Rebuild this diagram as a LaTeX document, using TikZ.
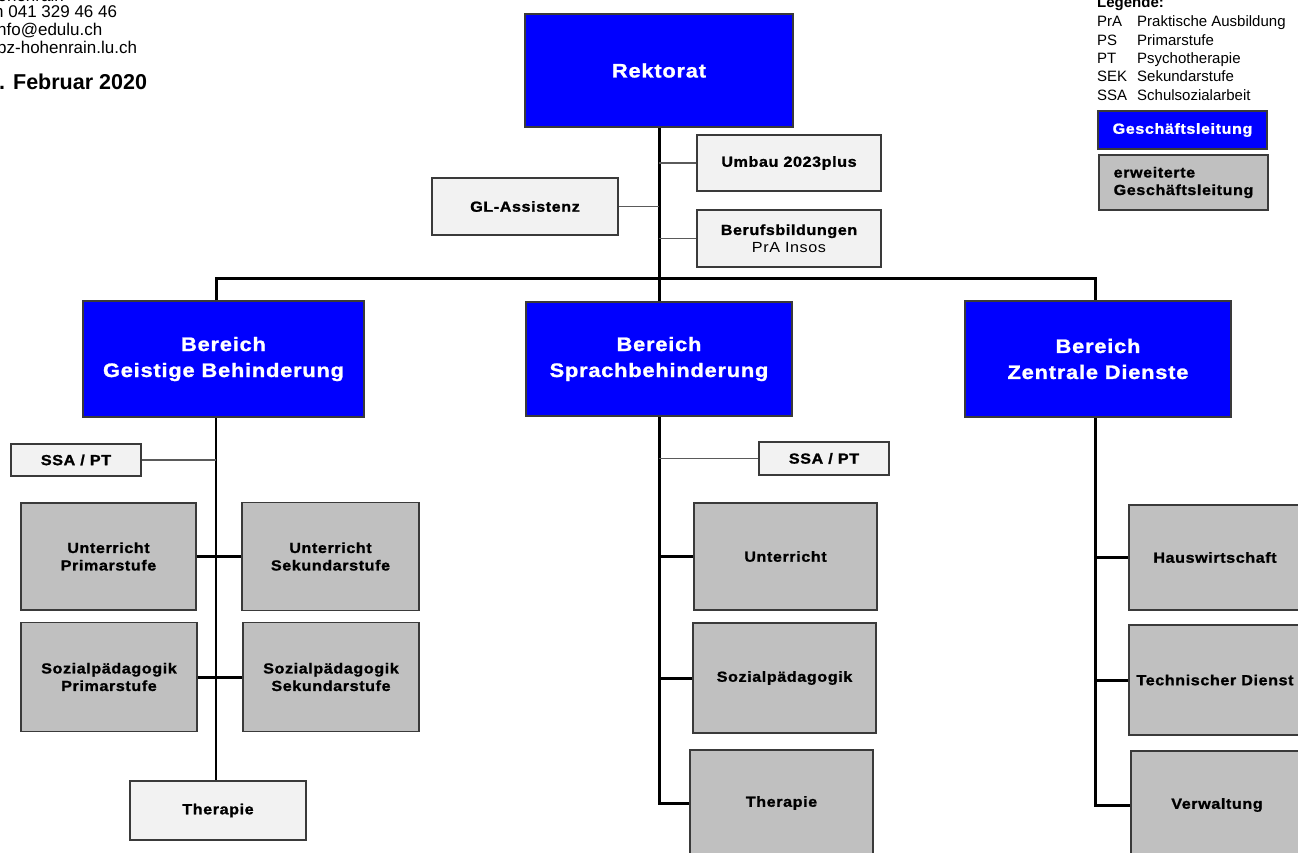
\documentclass[tikz,border=0pt]{standalone}
\usepackage{fontspec}
\setmainfont{Liberation Sans}
\newfontfamily\boxfont{Liberation Sans}[FakeStretch=1.1, LetterSpace=4, BoldFeatures={FakeBold=1.2}]
\newfontfamily\headfont{Liberation Sans}[FakeStretch=1.12, LetterSpace=4, BoldFeatures={FakeBold=1.2}]

\definecolor{glblue}{HTML}{0000FF}
\definecolor{eglgray}{HTML}{C0C0C0}
\definecolor{stabgray}{HTML}{F2F2F2}
\definecolor{framegray}{HTML}{3A3A3A}
\definecolor{linegray}{HTML}{5A5A5A}

\begin{document}
\begin{tikzpicture}[x=1pt, y=-1pt,
  box/.style={rectangle, draw=framegray, line width=1.2pt, align=center, inner sep=2pt},
  gl/.style={box, fill=glblue, text=white, font=\fontsize{19.5}{26}\selectfont\headfont\bfseries},
  glsmall/.style={box, fill=glblue, text=white, font=\fontsize{14.67}{17.5}\selectfont\boxfont\bfseries},
  egl/.style={box, fill=eglgray, font=\fontsize{14.67}{17.5}\selectfont\boxfont\bfseries},
  stab/.style={box, fill=stabgray, font=\fontsize{14.67}{17.5}\selectfont\boxfont\bfseries},
  legend/.style={anchor=base west, inner sep=0pt, font=\fontsize{15}{17}\selectfont},
  address/.style={anchor=base west, inner sep=0pt, font=\fontsize{17}{18}\selectfont},
  trunk/.style={line width=3pt},
  thintrunk/.style={line width=2pt},
  stabline/.style={draw=linegray, line width=1.4pt}
]
  \fill[white] (0,0) rectangle (1298,853);
  \useasboundingbox (0,0) rectangle (1298,853);
  \clip (0,0) rectangle (1298,853);

  % Kopf
  \node[address, anchor=base east] (ort) at (64,2) {Hohenrain};
  \node[address] (telefon) at (-6,18) {h 041 329 46 46};
  \node[address] (mail) at (-3,36) {nfo@edulu.ch};
  \node[address] (web) at (-3,54) {pz-hohenrain.lu.ch};
  \node[address, font=\fontsize{21.5}{24}\selectfont\bfseries] (datum) at (-1,90) {. Februar 2020};

  % Legende
  \node[legend, font=\fontsize{15}{17}\selectfont\bfseries] (legende) at (1097,8) {Legende:};
  \foreach \abbr/\desc [count=\i] in {PrA/Praktische Ausbildung, PS/Primarstufe, PT/Psychotherapie, SEK/Sekundarstufe, SSA/Schulsozialarbeit}{
    \pgfmathsetmacro\y{27+18.3*(\i-1)}
    \node[legend] (abbr\i) at (1097,\y) {\abbr};
    \node[legend] (desc\i) at (1137,\y) {\desc};
  }
  \node[glsmall, minimum width=169pt, minimum height=38pt] (legendGL) at (1182.5,130) {Geschäftsleitung};
  \node[egl, align=left, minimum width=169pt, minimum height=55pt] (legendEGL) at (1183.5,182.5) {erweiterte\\Geschäftsleitung};

  % Rektorat und Stab
  \node[gl, minimum width=268pt, minimum height=113pt] (rektorat) at (659,70.5) {Rektorat};
  \node[stab, minimum width=184pt, minimum height=56pt] (umbau) at (789,163) {Umbau 2023plus};
  \node[stab, minimum width=186pt, minimum height=57pt] (assistenz) at (525,206.5) {GL-Assistenz};
  \node[stab, minimum width=184pt, minimum height=57pt] (beruf) at (789,238.5) {Berufsbildungen\\{\mdseries PrA Insos}};

  % Bereiche
  \node[gl, minimum width=281pt, minimum height=116pt] (geistig) at (223.5,359) {Bereich\\Geistige Behinderung};
  \node[gl, minimum width=266pt, minimum height=114pt] (sprach) at (659,359) {Bereich\\Sprachbehinderung};
  \node[gl, minimum width=266pt, minimum height=116pt] (zentral) at (1098,359) {Bereich\\Zentrale Dienste};
  \coordinate (barL) at (216,278);
  \coordinate (barR) at (1095,278);

  % Geistige Behinderung
  \node[stab, minimum width=130pt, minimum height=32pt] (ssaG) at (76,460) {SSA / PT};
  \node[egl, minimum width=175pt, minimum height=107pt] (unterrichtPS) at (108.5,556.5) {Unterricht\\Primarstufe};
  \node[egl, minimum width=177pt, minimum height=108pt] (unterrichtSEK) at (330.5,556.5) {Unterricht\\Sekundarstufe};
  \node[egl, minimum width=176pt, minimum height=109pt] (sozialPS) at (109,677) {Sozialpädagogik\\Primarstufe};
  \node[egl, minimum width=176pt, minimum height=109pt] (sozialSEK) at (331,677) {Sozialpädagogik\\Sekundarstufe};
  \node[stab, minimum width=176pt, minimum height=59pt] (therapieG) at (218,810.5) {Therapie};

  % Sprachbehinderung
  \node[stab, minimum width=130pt, minimum height=33pt] (ssaS) at (824,458.5) {SSA / PT};
  \node[egl, minimum width=183pt, minimum height=107pt] (unterricht) at (785.5,556.5) {Unterricht};
  \node[egl, minimum width=183pt, minimum height=110pt] (sozial) at (784.5,678) {Sozialpädagogik};
  \node[egl, minimum width=183pt, minimum height=106pt] (therapieS) at (781.5,803) {Therapie};

  % Zentrale Dienste
  \node[egl, minimum width=172pt, minimum height=105pt] (hauswirtschaft) at (1215,557.5) {Hauswirtschaft};
  \node[egl, minimum width=172pt, minimum height=110pt] (technik) at (1215,680) {Technischer Dienst};
  \node[egl, minimum width=172pt, minimum height=108pt] (verwaltung) at (1217,805) {Verwaltung};

  % Linien
  \draw[trunk] (rektorat.south) -- (sprach.north);
  \draw[trunk] (geistig.north -| barL) -- (barL) -- (barR) -- (zentral.north -| barR);
  \draw[stabline] (assistenz.east) -- (assistenz.east -| rektorat.south);
  \foreach \n in {umbau, beruf}
    \draw[stabline] (\n.west -| rektorat.south) -- (\n.west);

  \draw[thintrunk] (geistig.south -| barL) -- (therapieG.north -| barL);
  \draw[stabline] (ssaG.east) -- (ssaG.east -| barL);
  \draw[trunk] (unterrichtPS.east) -- (unterrichtSEK.west);
  \draw[trunk] (sozialPS.east) -- (sozialSEK.west);

  \draw[trunk] (sprach.south) |- (therapieS.west);
  \draw[stabline] (ssaS.west -| sprach.south) -- (ssaS.west);
  \foreach \n in {unterricht, sozial}
    \draw[trunk] (\n.west -| sprach.south) -- (\n.west);

  \draw[trunk] (zentral.south -| barR) |- (verwaltung.west);
  \foreach \n in {hauswirtschaft, technik}
    \draw[trunk] (\n.west -| barR) -- (\n.west);
\end{tikzpicture}
\end{document}
